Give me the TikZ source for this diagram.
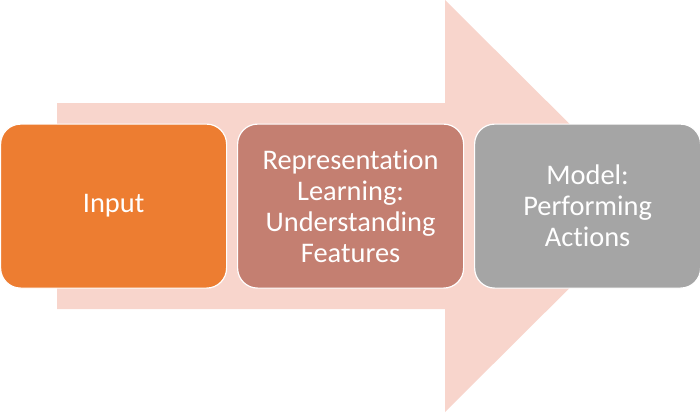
\documentclass[tikz,border=0pt]{standalone}
\usepackage{fontspec}
\setmainfont{Carlito}[RawFeature={-liga;-dlig;-clig}]
\definecolor{arrowc}{HTML}{F8D5CC}
\definecolor{boxa}{HTML}{ED7D31}
\definecolor{boxb}{HTML}{C47F71}
\definecolor{boxc}{HTML}{A5A5A5}
\begin{document}
\begin{tikzpicture}[x=1pt,y=-1pt,
  stage/.style={draw=white,line width=1.2pt,rounded corners=20pt,minimum width=226pt,minimum height=164pt,inner sep=0pt,
    text=white,align=center,font=\fontsize{28.4}{31}\selectfont,anchor=north west}]
\useasboundingbox (0,0) rectangle (700,412);
\fill[arrowc] (57,103) -- (445,103) -- (445,0) -- (652,206) -- (445,412) -- (445,309) -- (57,309) -- cycle;
\node[stage,fill=boxa] (a) at (0,123.5) {Input};
\node[stage,fill=boxb] (b) at (237,123.5) {Representation\\Learning:\\Understanding\\Features};
\node[stage,fill=boxc] (c) at (474,123.5) {Model:\\Performing\\Actions};
\end{tikzpicture}
\end{document}
